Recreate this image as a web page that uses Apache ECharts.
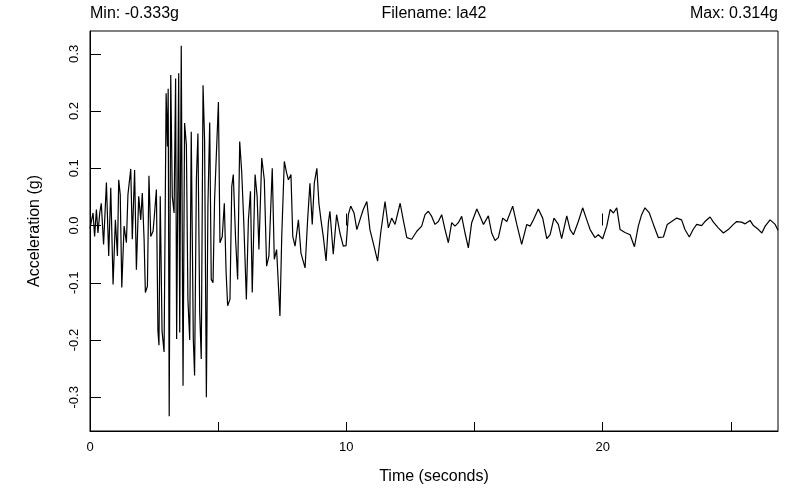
<!DOCTYPE html>
<html>
<head>
<meta charset="utf-8">
<title>la42 accelerogram</title>
<script src="https://cdn.jsdelivr.net/npm/echarts@6/dist/echarts.min.js"></script>
<style>
  html, body { margin: 0; padding: 0; background: #fff; }
  #chart { width: 795px; height: 490px; }
</style>
</head>
<body>
<div id="chart"></div>
<script>
// record info shown in the header
const recordName = 'la42'
const peakMin = -0.333
const peakMax = 0.314

// axis ticks
const timeTicks = [0, 5, 10, 15, 20, 25]
const timeLabels = [0, 10, 20]
const accelTicks = [-0.3, -0.2, -0.1, 0, 0.1, 0.2, 0.3]

// strong shaking, 0 - 4.9 s
const strongTime = [
  0.00, 0.12, 0.18, 0.25, 0.31, 0.38, 0.44, 0.53, 0.64, 0.73,
  0.81, 0.90, 0.99, 1.07, 1.12, 1.18, 1.24, 1.33, 1.42, 1.48,
  1.59, 1.65, 1.74, 1.81, 1.90, 1.98, 2.04, 2.11, 2.16, 2.24,
  2.30, 2.37, 2.46, 2.52, 2.59, 2.65, 2.69, 2.74, 2.81, 2.89,
  2.97, 3.02, 3.05, 3.09, 3.15, 3.21, 3.28, 3.34, 3.38, 3.46,
  3.50, 3.56, 3.63, 3.69, 3.76, 3.82, 3.89, 3.95, 4.03, 4.08,
  4.15, 4.21, 4.28, 4.34, 4.41, 4.47, 4.54, 4.60, 4.67, 4.73,
  4.80, 4.86
]
const strongAccel = [
  -0.005, 0.022, -0.019, 0.028, -0.013, 0.022, 0.039, -0.033, 0.075, -0.053,
  0.066, -0.103, 0.010, -0.053, 0.080, 0.054, -0.108, -0.001, -0.030, 0.054,
  0.099, -0.024, 0.097, -0.077, 0.051, 0.010, 0.057, -0.024, -0.117, -0.106,
  0.087, -0.019, -0.010, 0.022, 0.063, -0.184, -0.209, 0.051, -0.184, -0.221,
  0.231, 0.138, 0.239, -0.333, 0.263, 0.051, 0.022, 0.257, -0.198, 0.266,
  -0.187, 0.314, -0.280, 0.179, 0.141, -0.129, -0.200, 0.164, -0.198, -0.262,
  0.080, 0.161, -0.152, -0.233, 0.245, 0.150, -0.300, 0.034, 0.180, -0.094,
  -0.100, 0.045
]

// decaying part, 5 - 9.3 s
const midTime = [
  5.01, 5.07, 5.16, 5.24, 5.31, 5.37, 5.46, 5.53, 5.59, 5.68,
  5.76, 5.84, 5.92, 6.00, 6.10, 6.18, 6.26, 6.33, 6.44, 6.52,
  6.59, 6.70, 6.80, 6.89, 6.98, 7.11, 7.19, 7.28, 7.41, 7.48,
  7.58, 7.67, 7.74, 7.84, 7.91, 8.00, 8.13, 8.23, 8.39, 8.49,
  8.58, 8.67, 8.75, 8.85, 8.93, 9.01, 9.10, 9.21, 9.30
]
const midAccel = [
  0.216, -0.030, -0.019, 0.039, -0.082, -0.140, -0.129, 0.068, 0.089, -0.024,
  -0.094, 0.147, 0.092, 0.005, -0.129, 0.010, 0.060, -0.117, 0.089, 0.051,
  -0.042, 0.118, 0.080, -0.071, -0.053, 0.100, -0.059, -0.042, -0.158, -0.019,
  0.112, 0.092, 0.080, 0.089, -0.019, -0.036, 0.010, -0.048, -0.074, 0.010,
  0.074, 0.002, 0.074, 0.100, 0.039, 0.010, -0.019, -0.062, 0.005
]

// coda, 9.4 s - end
const codaTime = [
  9.36, 9.49, 9.62, 9.75, 9.88, 9.99, 10.08, 10.17, 10.30, 10.41,
  10.53, 10.66, 10.80, 10.92, 11.08, 11.22, 11.34, 11.51, 11.64, 11.77,
  11.90, 12.10, 12.22, 12.36, 12.55, 12.75, 12.94, 13.07, 13.20, 13.33,
  13.46, 13.59, 13.72, 13.85, 13.98, 14.11, 14.24, 14.37, 14.50, 14.63,
  14.76, 14.89, 15.09, 15.22, 15.35, 15.54, 15.67, 15.80, 15.93, 16.10,
  16.26, 16.49, 16.65, 16.84, 17.04, 17.17, 17.30, 17.49, 17.66, 17.82,
  17.95, 18.10, 18.27, 18.40, 18.60, 18.73, 18.86, 19.05, 19.22, 19.38,
  19.51, 19.70, 19.83, 20.00, 20.16, 20.29, 20.42, 20.55, 20.68, 20.87,
  21.07, 21.24, 21.39, 21.52, 21.65, 21.82, 21.98, 22.17, 22.37, 22.52,
  22.69, 22.89, 23.08, 23.21, 23.38, 23.54, 23.67, 23.86, 23.99, 24.19,
  24.32, 24.51, 24.71, 24.90, 25.10, 25.23, 25.42, 25.56, 25.75, 25.88,
  26.08, 26.21, 26.34, 26.53, 26.73, 26.84
]
const codaAccel = [
  0.025, -0.050, 0.019, -0.013, -0.036, -0.035, 0.019, 0.034, 0.022, -0.007,
  0.010, 0.028, 0.042, -0.007, -0.036, -0.062, -0.013, 0.042, -0.004, 0.013,
  0.002, 0.039, 0.010, -0.021, -0.024, -0.010, -0.001, 0.019, 0.025, 0.016,
  0.002, 0.007, 0.019, -0.007, -0.030, 0.005, -0.001, 0.005, 0.016, -0.013,
  -0.039, 0.005, 0.029, 0.016, 0.002, 0.017, -0.013, -0.026, -0.021, 0.013,
  0.007, 0.034, 0.002, -0.033, 0.002, -0.001, 0.010, 0.029, 0.013, -0.023,
  -0.016, 0.013, 0.002, -0.023, 0.017, -0.007, -0.016, 0.007, 0.031, 0.010,
  -0.007, -0.021, -0.016, -0.023, -0.001, 0.028, 0.022, 0.031, -0.007, -0.012,
  -0.016, -0.037, -0.001, 0.019, 0.031, 0.022, 0.002, -0.021, -0.020, 0.002,
  0.007, 0.013, 0.010, -0.007, -0.020, -0.006, 0.002, 0.000, 0.007, 0.015,
  0.006, -0.004, -0.013, -0.007, 0.002, 0.007, 0.006, 0.003, 0.009, 0.000,
  -0.007, -0.013, -0.001, 0.010, 0.002, -0.008
]

const timeSec = strongTime.concat(midTime, codaTime)
const accelG = strongAccel.concat(midAccel, codaAccel)
const trace = timeSec.map((t, i) => [t, accelG[i]])

const font = "'Liberation Sans', Arial, sans-serif"
const ink = '#000'

const chart = echarts.init(document.getElementById('chart'))
const option = {
  animation: false,
  backgroundColor: '#fff',
  textStyle: { fontFamily: font, color: ink },
  grid: {
    left: 90,
    right: 17,
    top: 31,
    bottom: 57,
    show: true,
    borderColor: ink,
    borderWidth: 1,
    backgroundColor: 'transparent'
  },
  graphic: [
    {
      type: 'text', left: 90, top: 6,
      style: { text: 'Min: ' + peakMin.toFixed(3) + 'g', font: '16px ' + font, fill: ink }
    },
    {
      type: 'text', x: 434, y: 6,
      style: { text: 'Filename: ' + recordName, font: '16px ' + font, fill: ink, textAlign: 'center' }
    },
    {
      type: 'text', right: 17, top: 6,
      style: { text: 'Max: ' + peakMax.toFixed(3) + 'g', font: '16px ' + font, fill: ink }
    }
  ],
  xAxis: [
    {
      type: 'value',
      min: 0,
      max: 26.84,
      name: 'Time (seconds)',
      nameLocation: 'middle',
      nameGap: 38,
      nameTextStyle: { fontSize: 16, color: ink, fontFamily: font },
      axisLine: { show: true, onZero: false, lineStyle: { color: ink, width: 1 } },
      axisTick: { show: true, inside: true, length: 9, customValues: timeTicks, lineStyle: { color: ink } },
      axisLabel: { show: true, margin: 10, fontSize: 13, color: ink, customValues: timeLabels },
      splitLine: { show: false }
    },
    {
      // longer ticks on the labelled values
      type: 'value',
      min: 0,
      max: 26.84,
      position: 'bottom',
      axisLine: { show: false },
      axisTick: { show: true, inside: true, length: 12, customValues: timeLabels, lineStyle: { color: ink } },
      axisLabel: { show: false },
      splitLine: { show: false }
    }
  ],
  yAxis: {
    type: 'value',
    min: -0.3589,
    max: 0.3399,
    name: 'Acceleration (g)',
    nameLocation: 'middle',
    nameGap: 47,
    nameTextStyle: { fontSize: 16, color: ink, fontFamily: font },
    axisLine: { show: true, onZero: false, lineStyle: { color: ink, width: 1 } },
    axisTick: { show: true, inside: true, length: 11, customValues: accelTicks, lineStyle: { color: ink } },
    axisLabel: {
      show: true,
      rotate: 90,
      margin: 9,
      fontSize: 13,
      color: ink,
      customValues: accelTicks,
      formatter: (v) => v.toFixed(1)
    },
    splitLine: { show: false }
  },
  series: [
    {
      type: 'line',
      data: trace,
      showSymbol: false,
      symbol: 'none',
      lineStyle: { color: ink, width: 1.2 },
      silent: true
    }
  ]
}
chart.setOption(option)
</script>
</body>
</html>
